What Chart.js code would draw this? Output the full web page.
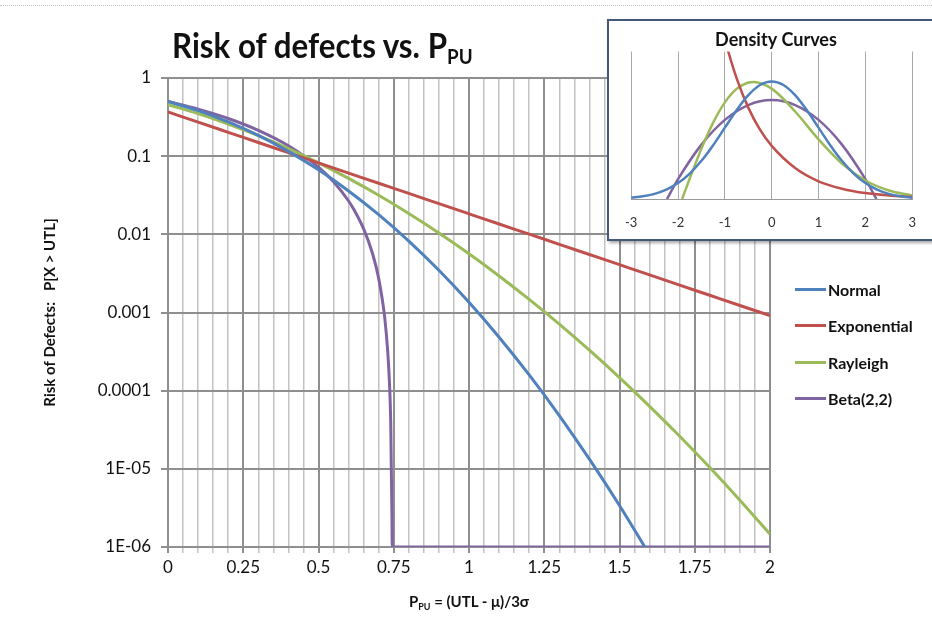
<!DOCTYPE html>
<html>
<head>
<meta charset="utf-8">
<script src="https://cdn.jsdelivr.net/npm/chart.js@4.4.1/dist/chart.umd.min.js"></script>
<style>
  body { margin: 0; background: #fff; width: 932px; height: 627px; overflow: hidden; position: relative; font-family: Lato, sans-serif; }
  #main { position: absolute; left: 0; top: 0; }
  #topline { position: absolute; left: 0; top: 5px; width: 932px; border-top: 1px dotted #c4c4c4; }
  #title { position: absolute; left: 172px; top: 24px; font: bold 34px Lato, sans-serif; color: #111; white-space: nowrap; transform: scaleX(0.92); transform-origin: left top; }
  #title sub, #xtitle sub { font-size: 0.6em; vertical-align: -0.3em; }
  #xtitle { position: absolute; left: 0; width: 938px; top: 592px; text-align: center; font: bold 15px Lato, sans-serif; color: #111; white-space: nowrap; }
  #inset { position: absolute; left: 607px; top: 19px; width: 340px; height: 218px; border: 2px solid #44597a; background: #fff; box-shadow: 2px 2px 3px rgba(0,0,0,0.35); }
  #insetChart { position: absolute; left: 0; top: 0; }
  #legend { position: absolute; left: 795px; top: 271px; }
  .item { height: 36.5px; display: flex; align-items: center; font: bold 16px Lato, sans-serif; color: #111; }
  .item span.line { display: inline-block; width: 31px; height: 3px; margin-right: 2px; }
</style>
</head>
<body>
<div id="topline"></div>
<canvas id="main" width="932" height="627"></canvas>
<div id="title">Risk of defects vs. P<sub>PU</sub></div>
<div id="xtitle">P<sub>PU</sub> = (UTL - μ)/3σ</div>
<div id="legend"></div>
<div id="inset"><canvas id="insetChart" width="323" height="218"></canvas></div>
<script>
// Grafico principale: rischio di difetti (scala log)
const ppu = [0, 0.1, 0.2, 0.3, 0.4, 0.5, 0.6, 0.7, 0.8, 0.9, 1.0, 1.1, 1.2, 1.3, 1.4, 1.5, 1.6, 1.7, 1.8, 1.9, 2.0];
const normalRisk = [0.5, 0.3821, 0.2743, 0.1841, 0.1151, 0.0668, 0.0359, 0.01786, 0.0082, 0.00347, 0.00135, 4.83e-4, 1.59e-4, 4.81e-5, 1.33e-5, 3.4e-6, 7.93e-7, null, null, null, null];
const expRisk = [0.3679, 0.2725, 0.2019, 0.1496, 0.1108, 0.0821, 0.0608, 0.045, 0.0334, 0.0247, 0.0183, 0.01357, 0.01005, 0.00745, 0.00552, 0.00409, 0.00303, 0.00224, 0.00166, 0.00123, 0.000912];
const rayleighRisk = [0.4559, 0.3496, 0.2579, 0.1831, 0.125, 0.0821, 0.0519, 0.03157, 0.01846, 0.01039, 0.00563, 0.002934, 0.00147, 7.09e-4, 3.29e-4, 1.47e-4, 6.3e-5, 2.61e-5, 1.04e-5, 3.97e-6, 1.46e-6];
const betaPpu = [0, 0.1, 0.2, 0.3, 0.4, 0.5, 0.55, 0.6, 0.62, 0.65, 0.68, 0.7, 0.72, 0.73, 0.735, 0.74, 0.744, 0.745, 2];
const betaRisk = [0.5, 0.4, 0.3036, 0.2144, 0.1362, 0.0724, 0.047, 0.0267, 0.02, 0.01175, 0.0056, 0.00272, 0.000858, 0.000316, 0.000144, 3.87e-5, 2.48e-6, 1e-6, 1e-6];

const seriesNames = ['Normal', 'Exponential', 'Rayleigh', 'Beta(2,2)'];
const seriesColors = ['#4f81bd', '#c0504d', '#9bbb59', '#8064a2'];

const xTickLabels = ['0', '0.25', '0.5', '0.75', '1', '1.25', '1.5', '1.75', '2'];
const yTickValues = [1, 0.1, 0.01, 0.001, 0.0001, 0.00001, 0.000001];
const yTickLabels = ['1', '0.1', '0.01', '0.001', '0.0001', '1E-05', '1E-06'];

// Curve di densità (riquadro)
const zNorm = [-3, -2.75, -2.5, -2.25, -2, -1.75, -1.5, -1.25, -1, -0.75, -0.5, -0.25, 0, 0.25, 0.5, 0.75, 1, 1.25, 1.5, 1.75, 2, 2.25, 2.5, 2.75, 3];
const normPdf = [0.0044, 0.0091, 0.0175, 0.0317, 0.054, 0.0863, 0.1295, 0.1826, 0.242, 0.3011, 0.3521, 0.3867, 0.3989, 0.3867, 0.3521, 0.3011, 0.242, 0.1826, 0.1295, 0.0863, 0.054, 0.0317, 0.0175, 0.0091, 0.0044];
const zExp = [-1.05, -1, -0.75, -0.5, -0.25, 0, 0.5, 1, 1.5, 2, 2.5, 3];
const expPdf = [0.57, 0.54, 0.41, 0.31, 0.235, 0.18, 0.105, 0.06, 0.035, 0.02, 0.012, 0.007];
const zRay = [-1.913, -1.75, -1.5, -1.25, -1, -0.75, -0.5, -0.387, 0, 0.5, 1, 1.5, 2, 2.5, 3];
const rayPdf = [0, 0.0696, 0.1709, 0.2589, 0.3277, 0.3734, 0.3951, 0.3973, 0.3743, 0.2968, 0.2024, 0.1203, 0.0628, 0.029, 0.0119];
const zBeta = [-2.236, -2, -1.5, -1, -0.5, 0, 0.5, 1, 1.5, 2, 2.236];
const betaPdf = [0, 0.0671, 0.1845, 0.2683, 0.3186, 0.3354, 0.3186, 0.2683, 0.1845, 0.0671, 0];
const zTickLabels = ['-3', '-2', '-1', '0', '1', '2', '3'];

function toPoints(xs, ys) {
    return xs.map((x, i) => ({ x: x, y: ys[i] }));
}

const majorGrid = '#8f8f8f';
const minorGrid = '#c2c2c2';

const mainChart = new Chart(document.getElementById('main'), {
    type: 'line',
    data: {
        datasets: [
            { label: seriesNames[0], data: toPoints(ppu, normalRisk) },
            { label: seriesNames[1], data: toPoints(ppu, expRisk) },
            { label: seriesNames[2], data: toPoints(ppu, rayleighRisk) },
            { label: seriesNames[3], data: toPoints(betaPpu, betaRisk) }
        ].map((ds, i) => Object.assign(ds, {
            borderColor: seriesColors[i],
            backgroundColor: seriesColors[i],
            borderWidth: 3,
            pointRadius: 0,
            cubicInterpolationMode: 'monotone',
            spanGaps: false
        }))
    },
    options: {
        responsive: false,
        animation: false,
        devicePixelRatio: 1,
        layout: { padding: { top: 78, right: 162, bottom: 0, left: 0 } },
        plugins: {
            legend: { display: false },
            tooltip: { enabled: false }
        },
        scales: {
            x: {
                type: 'linear',
                min: 0,
                max: 2,
                afterBuildTicks: (scale) => {
                    scale.ticks = [];
                    for (let i = 0; i <= 40; i++) scale.ticks.push({ value: i * 0.05 });
                },
                afterFit: (scale) => { scale.height = 80; },
                ticks: {
                    autoSkip: false,
                    maxRotation: 0,
                    padding: 4,
                    color: '#111',
                    font: { family: 'Lato', size: 17 },
                    callback: (v, i) => (i % 5 === 0 ? xTickLabels[i / 5] : '')
                },
                grid: {
                    color: (ctx) => (ctx.index % 5 === 0 ? majorGrid : minorGrid),
                    lineWidth: (ctx) => (ctx.index % 5 === 0 ? 2 : 1.5),
                    tickLength: 6
                },
                border: { color: majorGrid, width: 2 }
            },
            y: {
                type: 'logarithmic',
                min: 0.000001,
                max: 1,
                afterBuildTicks: (scale) => {
                    scale.ticks = yTickValues.map(v => ({ value: v }));
                },
                afterFit: (scale) => { scale.width = 168; },
                ticks: {
                    padding: 10,
                    color: '#111',
                    font: { family: 'Lato', size: 17 },
                    callback: (v, i) => yTickLabels[i]
                },
                grid: { color: majorGrid, lineWidth: 2, tickLength: 7 },
                border: { color: majorGrid, width: 2 },
                title: {
                    display: true,
                    text: 'Risk of Defects:   P[X > UTL]',
                    color: '#111',
                    font: { family: 'Lato', size: 15, weight: 'bold' },
                    padding: { top: 41, bottom: 0 }
                }
            }
        }
    }
});

// Legenda HTML
const legendBox = document.getElementById('legend');
mainChart.data.datasets.forEach((ds) => {
    const row = document.createElement('div');
    row.className = 'item';
    const line = document.createElement('span');
    line.className = 'line';
    line.style.background = ds.borderColor;
    row.appendChild(line);
    row.appendChild(document.createTextNode(ds.label));
    legendBox.appendChild(row);
});

// Grafico riquadro: curve di densità
const insetChart = new Chart(document.getElementById('insetChart'), {
    type: 'line',
    data: {
        datasets: [
            { label: seriesNames[0], data: toPoints(zNorm, normPdf) },
            { label: seriesNames[1], data: toPoints(zExp, expPdf) },
            { label: seriesNames[2], data: toPoints(zRay, rayPdf) },
            { label: seriesNames[3], data: toPoints(zBeta, betaPdf) }
        ].map((ds, i) => Object.assign(ds, {
            borderColor: seriesColors[i],
            backgroundColor: seriesColors[i],
            borderWidth: 2.5,
            pointRadius: 0,
            cubicInterpolationMode: 'monotone'
        }))
    },
    options: {
        responsive: false,
        animation: false,
        devicePixelRatio: 1,
        layout: { padding: { top: 0, right: 3, bottom: 0, left: 14 } },
        plugins: {
            legend: { display: false },
            tooltip: { enabled: false },
            title: {
                display: true,
                text: 'Density Curves',
                color: '#111',
                font: { family: 'Lato', size: 18, weight: 'bold' },
                padding: { top: 8, bottom: 1 }
            }
        },
        scales: {
            x: {
                type: 'linear',
                min: -3,
                max: 3,
                afterBuildTicks: (scale) => {
                    scale.ticks = zTickLabels.map(t => ({ value: Number(t) }));
                },
                afterFit: (scale) => { scale.height = 40; },
                ticks: {
                    autoSkip: false,
                    maxRotation: 0,
                    padding: 16,
                    color: '#333',
                    font: { family: 'Lato', size: 13 },
                    callback: (v, i) => zTickLabels[i]
                },
                grid: { color: '#a8a8a8', lineWidth: 1, drawTicks: false },
                border: { color: '#999', width: 1 }
            },
            y: {
                display: false,
                min: 0,
                max: 0.5
            }
        }
    }
});
</script>
</body>
</html>
